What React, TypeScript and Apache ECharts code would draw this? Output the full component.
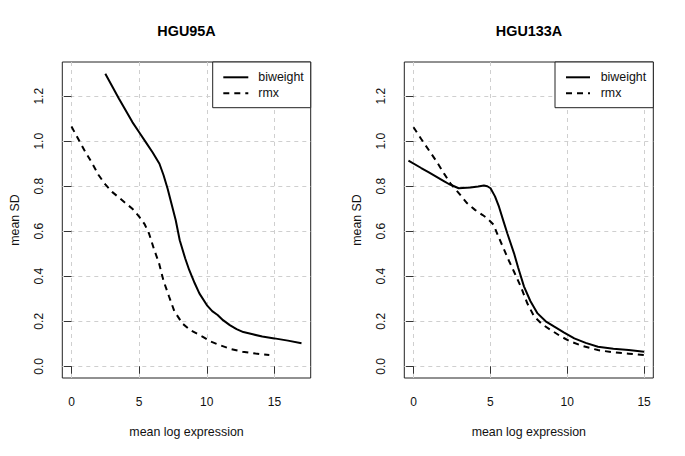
import React, { useEffect, useRef } from "react";
import * as echarts from "echarts";

const titles = ["HGU95A", "HGU133A"];
const seriesNames = ["biweight", "rmx"];
const xTicks = [0, 5, 10, 15];
const yTicks = [0, 0.2, 0.4, 0.6, 0.8, 1.0, 1.2];

const hgu95Biweight: [number, number][] = [
  [2.5, 1.3], [3.5, 1.19], [4.5, 1.085], [5.0, 1.04], [5.5, 0.995], [6.0, 0.95], [6.5, 0.9],
  [6.8, 0.85], [7.1, 0.79], [7.4, 0.72], [7.7, 0.65], [8.0, 0.56], [8.4, 0.48], [8.7, 0.428], [9.1, 0.37],
  [9.45, 0.324], [10.0, 0.272], [10.4, 0.245], [10.8, 0.228], [11.2, 0.205], [11.7, 0.183],
  [12.2, 0.165], [12.7, 0.152], [13.4, 0.142], [14.1, 0.132], [15.0, 0.124], [16.0, 0.114], [17.0, 0.102],
];
const hgu95Rmx: [number, number][] = [
  [0, 1.065], [0.5, 1.01], [1.0, 0.955], [1.5, 0.905], [2.0, 0.85], [2.5, 0.808], [3.0, 0.775],
  [3.5, 0.75], [4.0, 0.725], [4.5, 0.7], [5.0, 0.665], [5.4, 0.632], [5.73, 0.59], [6.1, 0.52],
  [6.47, 0.458], [6.8, 0.38], [7.21, 0.31], [7.6, 0.245], [8.2, 0.19], [8.8, 0.16], [9.68, 0.132],
  [10.3, 0.11], [10.92, 0.095], [11.7, 0.078], [12.64, 0.065], [13.6, 0.057], [14.62, 0.05],
];
const hgu133Biweight: [number, number][] = [
  [-0.33, 0.914], [0.5, 0.881], [1.0, 0.862], [1.5, 0.842], [2.0, 0.822], [2.3, 0.81], [2.94, 0.791],
  [3.7, 0.794], [4.2, 0.799], [4.58, 0.803], [4.8, 0.8], [5.01, 0.791], [5.3, 0.755], [5.56, 0.709],
  [5.85, 0.645], [6.1, 0.591], [6.54, 0.502], [6.8, 0.44], [7.19, 0.354], [7.6, 0.29], [8.07, 0.235],
  [8.6, 0.2], [9.16, 0.176], [9.8, 0.15], [10.46, 0.124], [11.2, 0.104], [12.0, 0.087], [13.0, 0.078],
  [14.0, 0.072], [15.0, 0.065],
];
const hgu133Rmx: [number, number][] = [
  [0, 1.062], [0.5, 1.01], [1.0, 0.96], [1.5, 0.91], [2.0, 0.855], [2.4, 0.813], [3.0, 0.765],
  [3.49, 0.724], [4.0, 0.695], [4.5, 0.672], [4.79, 0.658], [5.2, 0.63], [5.5, 0.58], [5.9, 0.517],
  [6.2, 0.47], [6.54, 0.42], [6.98, 0.354], [7.4, 0.28], [7.85, 0.221], [8.4, 0.185], [8.94, 0.161],
  [9.6, 0.132], [10.25, 0.109], [11.0, 0.09], [12.0, 0.072], [13.0, 0.062], [14.0, 0.056], [15.0, 0.05],
];

const FONT = "Liberation Sans, Arial, Helvetica, sans-serif";
const DASH = [6, 5];

export default function App() {
  const ref = useRef<HTMLDivElement>(null);
  useEffect(() => {
    if (!ref.current) return;
    const chart = echarts.init(ref.current, null, { renderer: "svg" });
    const grids = [
      { left: 62.3, top: 62, width: 248.4, height: 316 },
      { left: 404.3, top: 62, width: 249, height: 316 },
    ];
    const xRanges = [
      [-0.68, 17.68],
      [-0.6, 15.6],
    ];
    const mkX = (i: number) => ({
      type: "value",
      gridIndex: i,
      min: xRanges[i][0],
      max: xRanges[i][1],
      name: "mean log expression",
      nameLocation: "middle",
      nameGap: 48,
      nameTextStyle: { fontFamily: FONT, fontSize: 12.4, color: "#111" },
      axisLine: { show: false },
      axisTick: { show: true, inside: false, length: 7.5, customValues: xTicks, lineStyle: { color: "#333", width: 1 } },
      axisLabel: { show: true, customValues: xTicks, margin: 18, fontFamily: FONT, fontSize: 12, color: "#111" },
      splitLine: { show: true, lineStyle: { color: "#cfcfcf", type: [4, 4], width: 1 } },
    });
    const mkY = (i: number) => ({
      type: "value",
      gridIndex: i,
      min: -0.052,
      max: 1.352,
      name: "mean SD",
      nameLocation: "middle",
      nameGap: 41,
      nameTextStyle: { fontFamily: FONT, fontSize: 12.4, color: "#111" },
      axisLine: { show: false },
      axisTick: { show: true, inside: false, length: 7.5, customValues: yTicks, lineStyle: { color: "#333", width: 1 } },
      axisLabel: {
        show: true,
        customValues: yTicks,
        rotate: 90,
        margin: 17,
        fontFamily: FONT,
        fontSize: 12,
        color: "#111",
        formatter: (v: number) => v.toFixed(1),
      },
      splitLine: { show: true, lineStyle: { color: "#cfcfcf", type: [4, 4], width: 1 } },
    });
    const mkSeries = (name: string, data: [number, number][], i: number, dashed: boolean) => ({
      type: "line",
      name,
      xAxisIndex: i,
      yAxisIndex: i,
      data,
      symbol: "none",
      showSymbol: false,
      smooth: false,
      clip: true,
      lineStyle: { color: "#000", width: 2, type: dashed ? DASH : "solid" },
      itemStyle: { color: "#000" },
    });
    const legendBox = (x0: number, x1: number, lineX0: number, lineX1: number, textX: number) => ({
      type: "group",
      children: [
        { type: "rect", shape: { x: x0, y: 62, width: x1 - x0, height: 45.7 }, style: { fill: "#fff", stroke: "#222", lineWidth: 1 }, z: 10 },
        { type: "line", shape: { x1: lineX0, y1: 77.3, x2: lineX1, y2: 77.3 }, style: { stroke: "#000", lineWidth: 2 }, z: 11 },
        { type: "line", shape: { x1: lineX0, y1: 93.3, x2: lineX1, y2: 93.3 }, style: { stroke: "#000", lineWidth: 2, lineDash: DASH }, z: 11 },
        { type: "text", x: textX, y: 77.3, style: { text: seriesNames[0], fill: "#111", font: `12.4px ${FONT}`, textVerticalAlign: "middle", verticalAlign: "middle" }, z: 11 },
        { type: "text", x: textX, y: 93.3, style: { text: seriesNames[1], fill: "#111", font: `12.4px ${FONT}`, textVerticalAlign: "middle", verticalAlign: "middle" }, z: 11 },
      ],
    });
    chart.setOption({
      animation: false,
      backgroundColor: "#fff",
      title: [
        { text: titles[0], left: 186.5, top: 24, textAlign: "center", padding: 0, textStyle: { fontFamily: FONT, fontSize: 14.4, fontWeight: "bold", color: "#000" } },
        { text: titles[1], left: 529, top: 24, textAlign: "center", padding: 0, textStyle: { fontFamily: FONT, fontSize: 14.4, fontWeight: "bold", color: "#000" } },
      ],
      grid: grids.map((g) => ({ ...g, show: true, borderColor: "#222", borderWidth: 1, backgroundColor: "transparent" })),
      xAxis: [mkX(0), mkX(1)],
      yAxis: [mkY(0), mkY(1)],
      graphic: [
        legendBox(212.7, 310.7, 223.3, 248.3, 258.3),
        legendBox(555, 653.3, 566, 590, 600.7),
      ],
      series: [
        mkSeries(seriesNames[0], hgu95Biweight, 0, false),
        mkSeries(seriesNames[1], hgu95Rmx, 0, true),
        mkSeries(seriesNames[0], hgu133Biweight, 1, false),
        mkSeries(seriesNames[1], hgu133Rmx, 1, true),
      ],
    });
    return () => chart.dispose();
  }, []);
  return (
    <div
      ref={ref}
      style={{ position: "fixed", left: 0, top: 0, width: 685, height: 456, background: "#fff" }}
    />
  );
}
